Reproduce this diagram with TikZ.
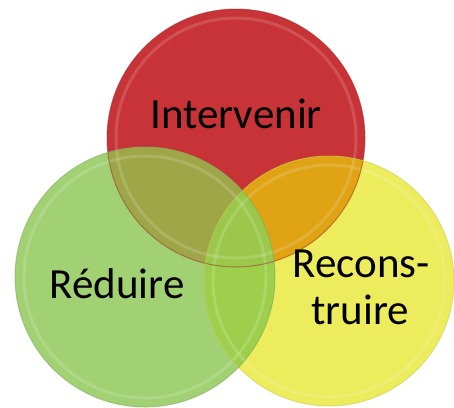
\documentclass[tikz,border=0pt]{standalone}
\usepackage{fontspec}
\setmainfont{Carlito}
\definecolor{cred}{HTML}{C83337}
\definecolor{cyel}{HTML}{ECEC5C}
\definecolor{cgrn}{HTML}{A2D174}
\definecolor{cRY}{HTML}{DFA314}
\definecolor{cGR}{HTML}{9EA648}
\definecolor{cGY}{HTML}{9ECF4C}
\definecolor{cGRY}{HTML}{9BC84A}
\tikzset{
  lbl/.style={font=\fontsize{43}{47}\selectfont, align=center, text=black, inner sep=0pt},
  rim/.style={line width=3pt, draw=white, draw opacity=0.15},
  edge/.style={line width=1pt, draw opacity=0.5}
}
\begin{document}
\begin{tikzpicture}[x=1pt,y=-1pt]
\useasboundingbox (0,0) rectangle (454,407);
\coordinate (R) at (236,138);
\coordinate (Y) at (329,281);
\coordinate (G) at (145,277);
\def\rR{129}\def\rY{125}\def\rG{130}
% base fills
\fill[cred] (R) circle (\rR);
\fill[cyel] (Y) circle (\rY);
\begin{scope}\clip (R) circle (\rR); \fill[cRY] (Y) circle (\rY); \end{scope}
\fill[cgrn] (G) circle (\rG);
\begin{scope}\clip (G) circle (\rG); \fill[cGR] (R) circle (\rR); \fill[cGY] (Y) circle (\rY);
  \clip (R) circle (\rR); \fill[cGRY] (Y) circle (\rY); \end{scope}
% rims
\draw[rim] (R) circle (\rR-9);
\draw[rim] (Y) circle (\rY-9);
\draw[rim] (G) circle (\rG-9);
\draw[edge, draw=cred!80!black] (R) circle (\rR);
\draw[edge, draw=cyel!85!black] (Y) circle (\rY);
\draw[edge, draw=cgrn!80!black] (G) circle (\rG);
% labels
\node[lbl, anchor=base] (t1) at (236,128) {Intervenir};
\node[lbl, anchor=base] (t2) at (117,298) {Réduire};
\node[lbl, anchor=base] (t3) at (361,277) {Recons-};
\node[lbl, anchor=base] (t4) at (360,324) {truire};
\end{tikzpicture}
\end{document}
